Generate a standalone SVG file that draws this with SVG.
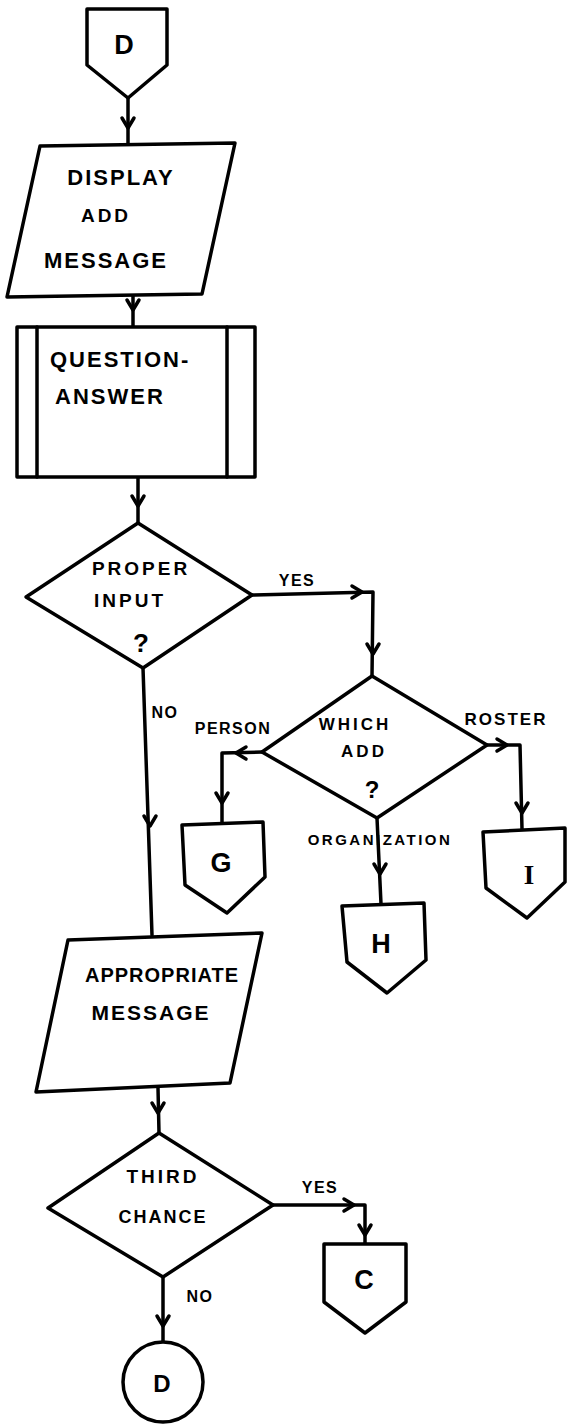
<svg xmlns="http://www.w3.org/2000/svg" width="572" height="1426" viewBox="0 0 572 1426">
<style>
.s{fill:#fff;stroke:#000;stroke-width:3.5;stroke-linejoin:round}
.ln{fill:none;stroke:#000;stroke-width:3.5;stroke-linecap:round;stroke-linejoin:round}
.t{font-family:"Liberation Sans",Arial,sans-serif;font-weight:bold;fill:#000;text-anchor:middle}
.b{font-size:22px;letter-spacing:2px}
.m{font-size:19px;letter-spacing:3px}
.l{font-size:16px;letter-spacing:1.5px}
.c{font-size:27px}
</style>
<defs>
<path id="ah" d="M-6,-10 L0,0 L6,-10" class="ln"/>
</defs>
<rect width="572" height="1426" fill="#fff"/>
<g id="connectors">
<path class="ln" d="M128,98 L128,145"/>
<use href="#ah" x="128" y="128"/>
<path class="ln" d="M133,295 L133,327"/>
<use href="#ah" x="133" y="310"/>
<path class="ln" d="M138,477 L138,523"/>
<use href="#ah" x="138" y="506"/>
<path class="ln" d="M252,595 L373,592 L372,676"/>
<use href="#ah" transform="translate(362,592) rotate(-90)"/>
<use href="#ah" x="373" y="654"/>
<path class="ln" d="M143,668 L152,935"/>
<use href="#ah" x="150" y="826"/>
<path class="ln" d="M262,752 L222,753 L222,823"/>
<use href="#ah" transform="translate(236,753) rotate(90)"/>
<use href="#ah" x="222" y="803"/>
<path class="ln" d="M377,818 L381,904"/>
<use href="#ah" x="380" y="874"/>
<path class="ln" d="M487,745 L520,745 L522,829"/>
<use href="#ah" transform="translate(507,745) rotate(-90)"/>
<use href="#ah" x="522" y="813"/>
<path class="ln" d="M158,1088 L159,1133"/>
<use href="#ah" x="158" y="1113"/>
<path class="ln" d="M273,1205 L365,1205 L365,1244"/>
<use href="#ah" transform="translate(354,1205) rotate(-90)"/>
<use href="#ah" x="365" y="1235"/>
<path class="ln" d="M163,1277 L163,1342"/>
<use href="#ah" x="163" y="1326"/>
<text class="t l" x="297" y="586">YES</text>
<text class="t l" x="165" y="718">NO</text>
<text class="t" style="font-size:16px;letter-spacing:1.5px" x="233" y="734">PERSON</text>
<text class="t" style="font-size:17px;letter-spacing:2px" x="506" y="725">ROSTER</text>
<text class="t" style="font-size:15px;letter-spacing:2.5px" x="380" y="845">ORGANIZATION</text>
<text class="t l" x="320" y="1193">YES</text>
<text class="t l" x="200" y="1302">NO</text>
</g>
<g id="node-d-top">
<path class="s" d="M87,9 L167,9 L167,65 L128,98 L87,65 Z"/>
<text class="t c" x="124" y="54">D</text>
</g>
<g id="node-display">
<path class="s" d="M40,146 L235,143 L202,294 L7,297 Z"/>
<text class="t b" x="121" y="185">DISPLAY</text>
<text class="t m" x="106" y="222">ADD</text>
<text class="t b" x="106" y="268">MESSAGE</text>
</g>
<g id="node-qa">
<rect class="s" x="17" y="327" width="238" height="150"/>
<path class="ln" d="M37,327 L37,477 M227,327 L227,477"/>
<text class="t b" style="text-anchor:start" x="50" y="367">QUESTION-</text>
<text class="t b" style="text-anchor:start" x="55" y="404">ANSWER</text>
</g>
<g id="node-proper">
<path class="s" d="M138,523 L252,595 L143,668 L26,597 Z"/>
<text class="t m" x="141" y="575">PROPER</text>
<text class="t m" x="130" y="607">INPUT</text>
<text class="t" style="font-size:26px" x="141" y="652">?</text>
</g>
<g id="node-which">
<path class="s" d="M372,676 L487,745 L377,818 L262,752 Z"/>
<text class="t" style="font-size:17px;letter-spacing:3px" x="355" y="730">WHICH</text>
<text class="t" style="font-size:17px;letter-spacing:3px" x="364" y="757">ADD</text>
<text class="t" style="font-size:24px" x="372" y="798">?</text>
</g>
<g id="node-g">
<path class="s" d="M182,825 L263,822 L265,877 L227,913 L185,885 Z"/>
<text class="t c" x="221" y="872">G</text>
</g>
<g id="node-h">
<path class="s" d="M342,906 L424,903 L426,960 L387,993 L347,962 Z"/>
<text class="t c" x="381" y="953">H</text>
</g>
<g id="node-i">
<path class="s" d="M483,832 L565,828 L565,882 L527,918 L486,888 Z"/>
<text class="t c" style="font-family:'Liberation Serif',serif" x="529" y="884">I</text>
</g>
<g id="node-appropriate">
<path class="s" d="M68,940 L262,933 L230,1083 L36,1092 Z"/>
<text class="t" style="font-size:20px;letter-spacing:1px" x="162" y="982">APPROPRIATE</text>
<text class="t" style="font-size:21px;letter-spacing:2px" x="151" y="1020">MESSAGE</text>
</g>
<g id="node-third">
<path class="s" d="M159,1133 L273,1205 L163,1277 L48,1208 Z"/>
<text class="t" style="font-size:19px;letter-spacing:3px" x="163" y="1183">THIRD</text>
<text class="t" style="font-size:18px;letter-spacing:2px" x="163" y="1223">CHANCE</text>
</g>
<g id="node-c">
<path class="s" d="M324,1244 L406,1244 L406,1302 L365,1333 L324,1302 Z"/>
<text class="t c" x="364" y="1289">C</text>
</g>
<g id="node-d-bottom">
<circle class="s" cx="163" cy="1382" r="40"/>
<text class="t" style="font-size:24px" x="162" y="1392">D</text>
</g>
</svg>
